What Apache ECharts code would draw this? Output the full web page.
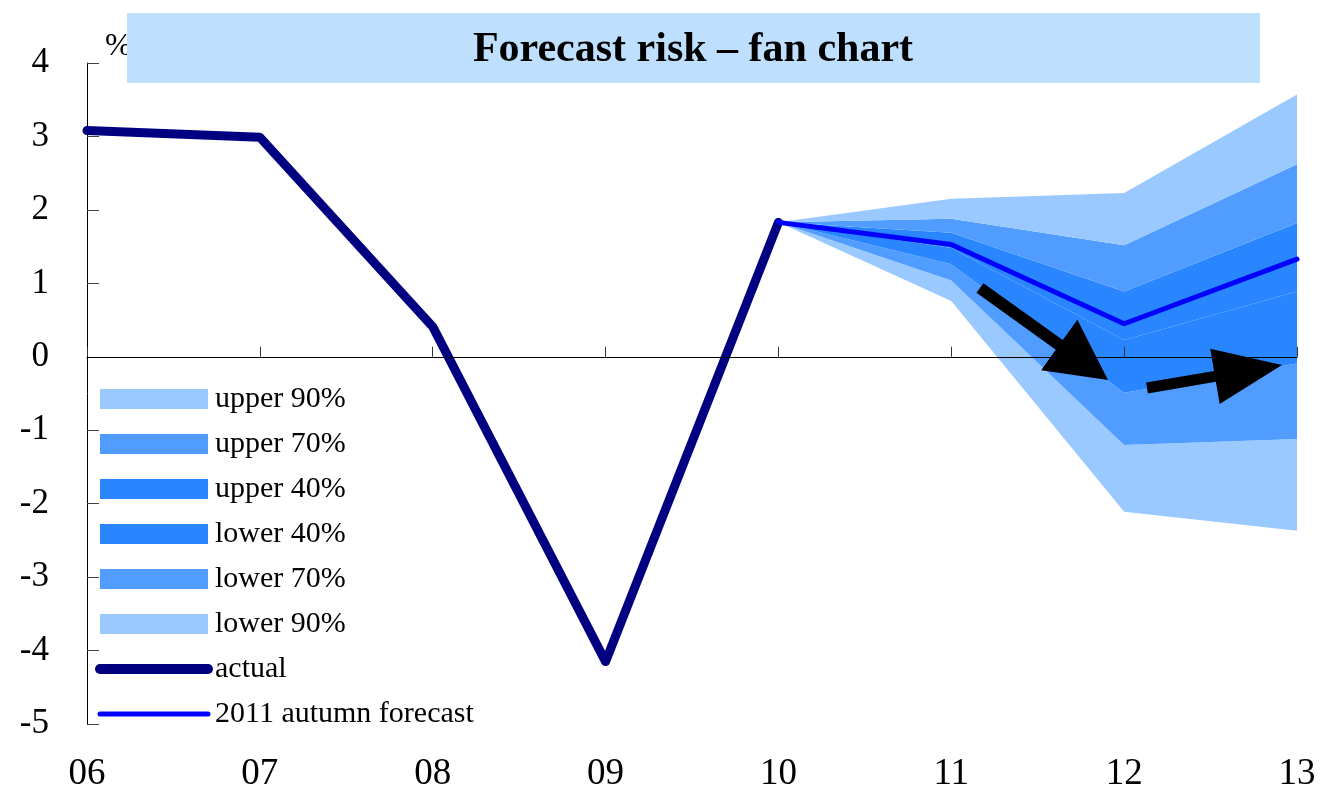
<!DOCTYPE html>
<html>
<head>
<meta charset="utf-8">
<script src="https://cdn.jsdelivr.net/npm/echarts@6/dist/echarts.min.js"></script>
<style>
html,body{margin:0;padding:0;background:#fff;}
#chart{width:1324px;height:794px;}
</style>
</head>
<body>
<div id="chart"></div>
<script>
const categories = ['06','07','08','09','10','11','12','13'];
const actual      = [3.08, 2.99, 0.41, -4.15, 1.83, '-', '-', '-'];
const forecast    = ['-', '-', '-', '-', 1.83, 1.53, 0.45, 1.33];
const lower90Low  = ['-', '-', '-', '-', 1.83, 0.76, -2.11, -2.37];
const lower70Low  = ['-', '-', '-', '-', 1.83, 1.04, -1.20, -1.12];
const lower40Low  = ['-', '-', '-', '-', 1.83, 1.26, -0.49, -0.09];
const centre      = ['-', '-', '-', '-', 1.83, 1.48, 0.23, 0.89];
const upper40High = ['-', '-', '-', '-', 1.83, 1.69, 0.89, 1.82];
const upper70High = ['-', '-', '-', '-', 1.83, 1.88, 1.52, 2.62];
const upper90High = ['-', '-', '-', '-', 1.83, 2.15, 2.23, 3.57];
const yTicks = {min: -5, max: 4, interval: 1};

const C90 = '#99c9ff', C70 = '#509dff', C40 = '#2a86ff';
const FONT = "'Liberation Serif','Times New Roman',serif";

function diff(a, b) {
  return a.map((v, i) => (v === '-' || b[i] === '-') ? '-' : +(v - b[i]).toFixed(4));
}
function band(name, data, color) {
  return {
    name, type: 'line', stack: 'fan', stackStrategy: 'all', data,
    symbol: 'none', showSymbol: false, smooth: false,
    lineStyle: {width: 0, color}, itemStyle: {color},
    areaStyle: {color, opacity: 1}, z: 1, silent: true
  };
}
function arrowPts(x0, y0, x1, y1, sw, hw, hl) {
  const dx = x1 - x0, dy = y1 - y0, L = Math.hypot(dx, dy);
  const ux = dx / L, uy = dy / L, nx = -uy, ny = ux;
  const bx = x1 - ux * hl, by = y1 - uy * hl;
  return [
    [x0 + nx * sw / 2, y0 + ny * sw / 2],
    [bx + nx * sw / 2, by + ny * sw / 2],
    [bx + nx * hw / 2, by + ny * hw / 2],
    [x1, y1],
    [bx - nx * hw / 2, by - ny * hw / 2],
    [bx - nx * sw / 2, by - ny * sw / 2],
    [x0 - nx * sw / 2, y0 - ny * sw / 2]
  ];
}

const chart = echarts.init(document.getElementById('chart'), null, {renderer: 'canvas'});
chart.setOption({
  animation: false,
  backgroundColor: '#fff',
  textStyle: {fontFamily: FONT},
  grid: {left: 87, right: 27, top: 63, bottom: 70},
  legend: {
    orient: 'vertical', left: 95, top: 384, padding: 0,
    itemWidth: 108, itemHeight: 20, itemGap: 15,
    textStyle: {fontFamily: FONT, fontSize: 30, color: '#000', padding: [0, 0, 0, 2]},
    selectedMode: false,
    data: [
      {name: 'upper 90%', icon: 'rect'},
      {name: 'upper 70%', icon: 'rect'},
      {name: 'upper 40%', icon: 'rect'},
      {name: 'lower 40%', icon: 'rect'},
      {name: 'lower 70%', icon: 'rect'},
      {name: 'lower 90%', icon: 'rect'},
      {name: 'actual', itemStyle: {opacity: 0}, lineStyle: {width: 10, cap: 'round', color: '#000080'}},
      {name: '2011 autumn forecast', itemStyle: {opacity: 0}, lineStyle: {width: 5, cap: 'round', color: '#0000ff'}}
    ]
  },
  xAxis: [
    {
      type: 'category', data: categories, boundaryGap: false, position: 'bottom',
      axisLine: {onZero: true, lineStyle: {color: '#000', width: 1.2}},
      axisTick: {inside: true, length: 10, lineStyle: {color: '#333'}},
      axisLabel: {show: false}, splitLine: {show: false}, z: 5
    },
    {
      type: 'category', data: categories, boundaryGap: false, position: 'bottom',
      axisLine: {show: false, onZero: false}, axisTick: {show: false},
      axisLabel: {fontFamily: FONT, fontSize: 37, color: '#000', margin: 32},
      splitLine: {show: false}
    }
  ],
  yAxis: {
    type: 'value', min: yTicks.min, max: yTicks.max, interval: yTicks.interval,
    name: '%', nameLocation: 'end', nameGap: 0,
    nameTextStyle: {fontFamily: FONT, fontSize: 32, color: '#000', align: 'left', padding: [0, 0, 0, 18]},
    axisLine: {show: true, onZero: false, lineStyle: {color: '#000', width: 1}},
    axisTick: {show: true, inside: true, length: 12, lineStyle: {color: '#444'}},
    axisLabel: {fontFamily: FONT, fontSize: 35, color: '#000', margin: 38},
    splitLine: {show: false}
  },
  series: [
    {name: 'base', type: 'line', stack: 'fan', stackStrategy: 'all', data: lower90Low,
     symbol: 'none', lineStyle: {width: 0, opacity: 0}, silent: true, z: 1},
    band('lower 90%', diff(lower70Low, lower90Low), C90),
    band('lower 70%', diff(lower40Low, lower70Low), C70),
    band('lower 40%', diff(centre, lower40Low), C40),
    band('upper 40%', diff(upper40High, centre), C40),
    band('upper 70%', diff(upper70High, upper40High), C70),
    band('upper 90%', diff(upper90High, upper70High), C90),
    {name: 'actual', type: 'line', data: actual, symbol: 'none', z: 4,
     lineStyle: {color: '#000080', width: 9, cap: 'round', join: 'round'}, itemStyle: {color: '#000080'}},
    {name: '2011 autumn forecast', type: 'line', data: forecast, symbol: 'none', z: 5,
     lineStyle: {color: '#0000ff', width: 5, cap: 'round', join: 'round'}, itemStyle: {color: '#0000ff'}}
  ],
  graphic: [
    {type: 'rect', shape: {x: 127, y: 13, width: 1133, height: 70}, style: {fill: '#bfdfff'}, z: 100},
    {type: 'text', x: 693, y: 50, z: 101,
     style: {text: 'Forecast risk – fan chart', fill: '#000', font: "bold 42px 'Liberation Serif', serif",
             textAlign: 'center', textVerticalAlign: 'middle'}},
    {type: 'polygon', z: 50, shape: {points: arrowPts(980, 288, 1108, 380, 12, 62, 60)}, style: {fill: '#000'}},
    {type: 'polygon', z: 50, shape: {points: arrowPts(1147, 388, 1282, 365, 11, 56, 68)}, style: {fill: '#000'}}
  ]
});
</script>
</body>
</html>
